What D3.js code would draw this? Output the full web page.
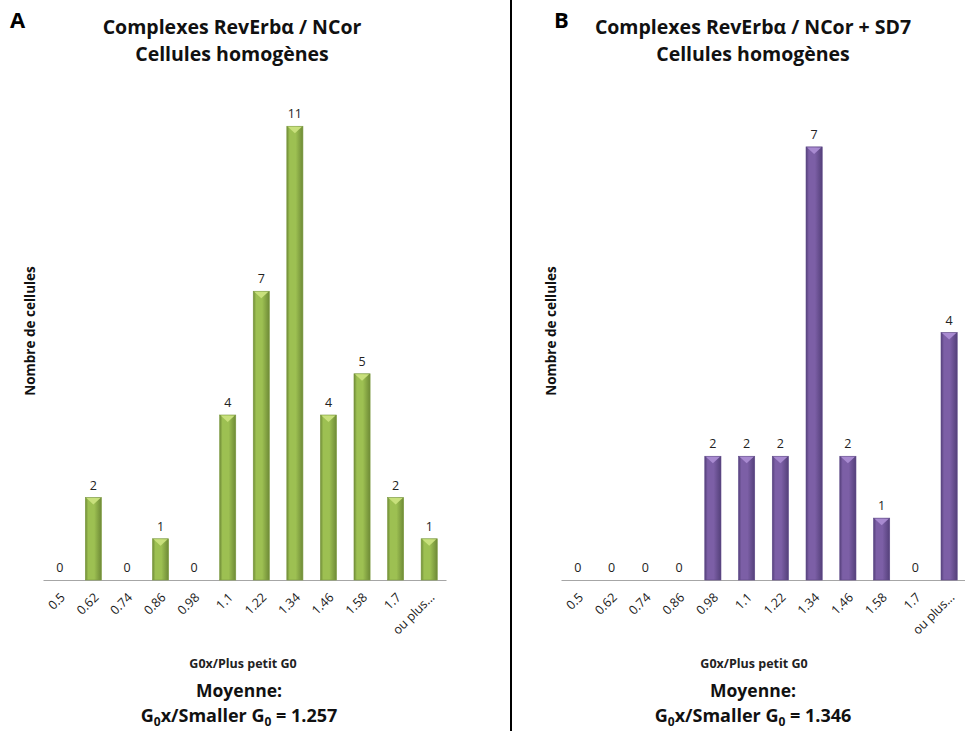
<!DOCTYPE html>
<html><head><meta charset="utf-8">
<script src="https://cdn.jsdelivr.net/npm/d3@7"></script>
<style>body{margin:0;background:#fff}svg{display:block}text{font-family:"Open Sans","Noto Sans",sans-serif}</style>
</head><body>
<script>
const categories = ["0.5","0.62","0.74","0.86","0.98","1.1","1.22","1.34","1.46","1.58","1.7","ou plus..."];
const valuesA = [0,2,0,1,0,4,7,11,4,5,2,1];
const valuesB = [0,0,0,0,2,2,2,7,2,1,0,4];
const titlesA = ["Complexes RevErbα / NCor","Cellules homogènes"];
const titlesB = ["Complexes RevErbα / NCor + SD7","Cellules homogènes"];
const meanA = "1.257", meanB = "1.346";

const W=965,H=731;
const svg=d3.select("body").append("svg").attr("width",W).attr("height",H);
svg.append("rect").attr("width",W).attr("height",H).attr("fill","#fff");
const defs=svg.append("defs");
function grad(id,edge,mid){
  const g=defs.append("linearGradient").attr("id",id).attr("x1","0%").attr("x2","100%");
  g.append("stop").attr("offset","0%").attr("stop-color",edge);
  g.append("stop").attr("offset","18%").attr("stop-color",mid);
  g.append("stop").attr("offset","55%").attr("stop-color",mid);
  g.append("stop").attr("offset","100%").attr("stop-color",edge);
}
grad("gA","#6e8a36","#9dc052");
grad("gB","#54407a","#7c5fa6");

svg.append("line").attr("x1",511).attr("x2",511).attr("y1",0).attr("y2",H).attr("stroke","#000").attr("stroke-width",2);

function panel(o){
  const g=svg.append("g");
  const x=d3.scaleBand().domain(categories).range(o.xr).paddingInner(0.52).paddingOuter(0.26);
  const y=d3.scaleLinear().domain([0,o.ymax]).range([580,85]);
  g.append("text").attr("x",o.letterX).attr("y",28).attr("font-size",22).attr("font-weight","bold").text(o.letter);
  o.titles.forEach((t,i)=>g.append("text").attr("x",o.cx).attr("y",34+i*27).attr("text-anchor","middle")
     .attr("font-size",19.5).attr("font-weight","bold").attr("fill","#111").text(t));
  const ax=g.append("g").attr("transform","translate(0,580)").call(d3.axisBottom(x).tickSize(0).tickPadding(0));
  ax.select(".domain").attr("stroke","#a6a6a6").attr("stroke-width",1.2);
  ax.selectAll(".tick text").attr("font-size",12.5).attr("fill","#1a1a1a")
    .attr("text-anchor","end").attr("y",0).attr("dy","0.35em")
    .attr("transform","translate(3,15) rotate(-45)");
  const bw=x.bandwidth();
  o.values.forEach((v,i)=>{
    const c=categories[i];
    if(v>0){
      const x0=x(c), y0=y(v);
      g.append("rect").attr("x",x0).attr("y",y0).attr("width",bw).attr("height",y(0)-y0)
        .attr("fill",`url(#${o.grad})`).attr("stroke",o.stroke).attr("stroke-width",0.6);
      g.append("path").attr("d",`M${x0+1},${y0+0.5}L${x0+bw-1},${y0+0.5}L${x0+bw/2},${y0+7}Z`).attr("fill",o.tri);
    }
    g.append("text").attr("x",x(c)+bw/2).attr("y",y(v)-8).attr("text-anchor","middle")
      .attr("font-size",12.5).attr("fill","#222").text(v);
  });
  g.append("text").attr("transform",`translate(${o.ylx},331) rotate(-90)`).attr("text-anchor","middle")
    .attr("font-size",13.5).attr("font-weight","bold").attr("fill","#111").text("Nombre de cellules");
  g.append("text").attr("x",o.xtx).attr("y",668).attr("text-anchor","middle")
    .attr("font-size",12.5).attr("font-weight","bold").attr("fill","#222").text("G0x/Plus petit G0");
  g.append("text").attr("x",o.mx).attr("y",697).attr("text-anchor","middle")
    .attr("font-size",17.5).attr("font-weight","bold").attr("fill","#111").text("Moyenne:");
  const t=g.append("text").attr("x",o.mx).attr("y",722).attr("text-anchor","middle")
    .attr("font-size",18).attr("font-weight","bold").attr("fill","#111");
  t.append("tspan").text("G");
  t.append("tspan").attr("font-size",12).attr("dy",3.5).text("0");
  t.append("tspan").attr("dy",-3.5).text("x/Smaller G");
  t.append("tspan").attr("font-size",12).attr("dy",3.5).text("0");
  t.append("tspan").attr("dy",-3.5).text(" = "+o.mean);
}
panel({xr:[43,446],ymax:12,values:valuesA,titles:titlesA,letter:"A",letterX:10,cx:232,ylx:35,xtx:243,mx:239,
  mean:meanA,grad:"gA",stroke:"#7c9a40",tri:"#c8e07c"});
panel({xr:[561,966],ymax:8,values:valuesB,titles:titlesB,letter:"B",letterX:554,cx:753,ylx:556,xtx:754,mx:753,
  mean:meanB,grad:"gB",stroke:"#5e4888",tri:"#a88ad0"});
</script>
</body></html>
